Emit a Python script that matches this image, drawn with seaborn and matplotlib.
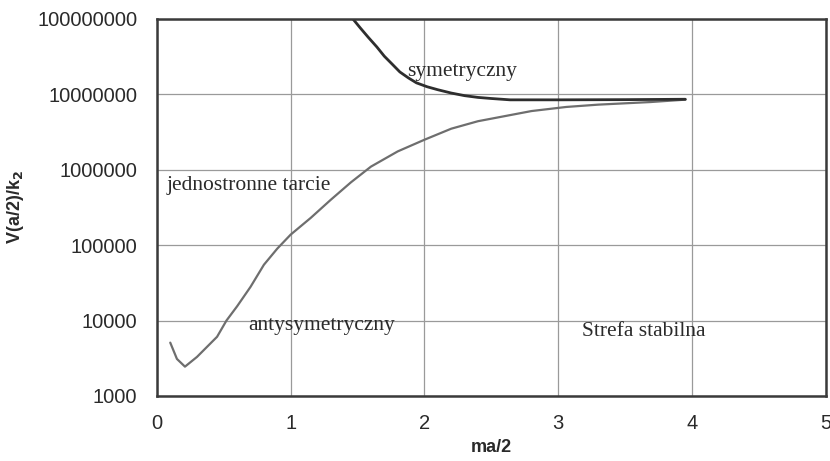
import matplotlib
matplotlib.use("Agg")
import matplotlib.pyplot as plt
import seaborn as sns
import pandas as pd
from matplotlib.ticker import FixedLocator, FixedFormatter, NullLocator

# --- data ---
sym_x = [1.465, 1.52, 1.58, 1.644, 1.70, 1.76, 1.816, 1.88, 1.94, 2.02, 2.10, 2.20,
         2.30, 2.40, 2.50, 2.64, 3.00, 3.50, 3.95]
sym_y = [1e8, 7.6e7, 5.7e7, 4.25e7, 3.2e7, 2.5e7, 1.98e7, 1.65e7, 1.42e7, 1.26e7,
         1.15e7, 1.04e7, 9.6e6, 9.1e6, 8.8e6, 8.45e6, 8.45e6, 8.5e6, 8.6e6]

anti_x = [0.10, 0.15, 0.21, 0.30, 0.45, 0.52, 0.60, 0.70, 0.80, 0.90, 1.00, 1.15, 1.30,
          1.45, 1.60, 1.80, 2.00, 2.20, 2.40, 2.64, 2.80, 3.06, 3.30, 3.69, 3.95]
anti_y = [5100, 3100, 2450, 3300, 6100, 10000, 15500, 28000, 55000, 90000, 138000, 230000,
          400000, 680000, 1.1e6, 1.75e6, 2.5e6, 3.5e6, 4.4e6, 5.3e6, 6.0e6, 6.8e6, 7.3e6, 7.9e6, 8.5e6]

x_ticks = [0, 1, 2, 3, 4, 5]
y_ticks = [1000, 10000, 100000, 1000000, 10000000, 100000000]
y_tick_labels = ["1000", "10000", "100000", "1000000", "10000000", "100000000"]

labels = ["symetryczny", "jednostronne tarcie", "antysymetryczny", "Strefa stabilna"]
label_x = [1.868, 0.075, 0.68, 3.18]
label_y = [1.98e7, 6.1e5, 8.7e3, 7.1e3]

sns.set_style("white")
plt.rcParams['font.family'] = ['Liberation Sans', 'DejaVu Sans']

df_sym = pd.DataFrame({"x": sym_x, "y": sym_y})
df_anti = pd.DataFrame({"x": anti_x, "y": anti_y})

fig = plt.figure(figsize=(8.30, 4.61), dpi=100)
ax = fig.add_axes([0.189, 0.141, 0.806, 0.818])

ax.set_yscale("log")
sns.lineplot(data=df_anti, x="x", y="y", ax=ax, color="#6e6e6e", linewidth=1.6,
             sort=False, estimator=None)
sns.lineplot(data=df_sym, x="x", y="y", ax=ax, color="#2e2e2e", linewidth=2.0,
             sort=False, estimator=None)

ax.set_xlim(0, 5)
ax.set_ylim(1000, 1e8)
ax.xaxis.set_major_locator(FixedLocator(x_ticks))
ax.yaxis.set_major_locator(FixedLocator(y_ticks))
ax.yaxis.set_major_formatter(FixedFormatter(y_tick_labels))
ax.yaxis.set_minor_locator(NullLocator())
ax.set_xticklabels([str(t) for t in x_ticks])

ax.grid(True, which="major", color="#9a9a9a", linewidth=0.9)
ax.set_axisbelow(True)
for s in ax.spines.values():
    s.set_color("#3a3a3a")
    s.set_linewidth(1.8)

ax.tick_params(axis="both", which="major", direction="out", length=5, width=1,
               color="#3a3a3a", labelsize=14.5, labelcolor="#2a2a2a")
ax.tick_params(axis="x", pad=8)
ax.tick_params(axis="y", pad=9)

ax.set_xlabel("ma/2", fontsize=13, fontweight="bold", color="#2a2a2a", labelpad=4)
ax.set_ylabel("V(a/2)/k$_\\mathbf{2}$", fontsize=13, fontweight="bold", color="#2a2a2a", labelpad=8)

for t, lx, ly in zip(labels, label_x, label_y):
    ax.text(lx, ly, t, fontsize=15.5, family=["Liberation Serif", "DejaVu Serif"],
            color="#2a2a2a", ha="left", va="center")

fig.savefig("out.png", dpi=100, facecolor="white")
